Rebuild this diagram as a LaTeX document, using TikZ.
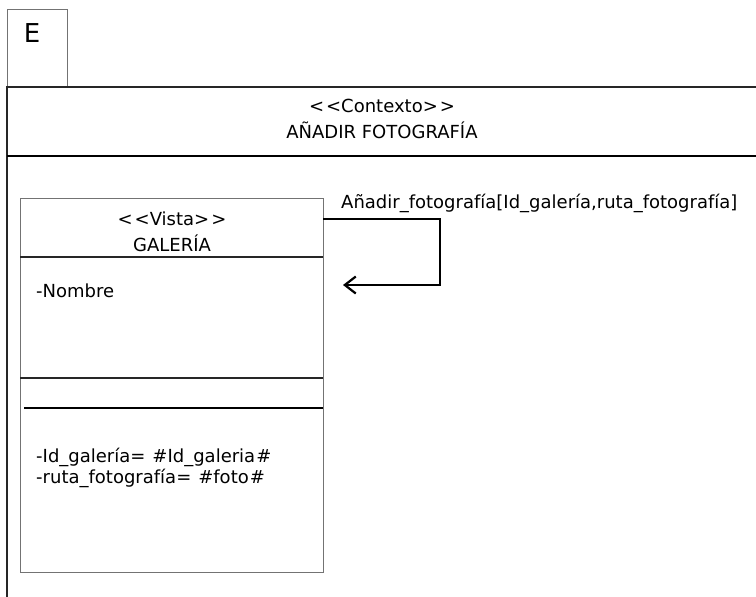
\documentclass[tikz,border=0pt]{standalone}
\usepackage{fontspec}
\setmainfont{DejaVu Sans}
\usetikzlibrary{arrows.meta}
\begin{document}
\begin{tikzpicture}[x=1pt,y=-1pt,
  thinbox/.style={draw=black!55,line width=0.9pt},
  rule/.style={draw=black!85,line width=1.4pt},
  heavyrule/.style={draw=black,line width=2pt},
  lbl/.style={font=\fontsize{18}{21}\selectfont,inner sep=0pt},
  flow/.style={draw=black,line width=2pt,-{Straight Barb[length=11pt,width=17pt,line width=2.2pt]}}]
\useasboundingbox (0,0) rectangle (756,597);
\fill[white] (0,0) rectangle (756,597);
% frame tab
\draw[thinbox] (7,87) -- (7,9) -- (67,9) -- (67,87);
\node[lbl,font=\fontsize{26}{30}\selectfont] (tab) at (32,33) {E};
% frame border and context header
\draw[rule] (756,87) -- (7,87) -- (7,597);
\draw[heavyrule] (7,156) -- (756,156);
\node[lbl] (ctx) at (382,106) {<\kern2pt<Contexto>\kern2pt>};
\node[lbl] (ctxname) at (382,130) {AÑADIR FOTOGRAFÍA};
% view class
\draw[thinbox] (20,198) rectangle (323,572);
\coordinate (gtopright) at (323,219);
\draw[rule] (20,257) -- (323,257);
\draw[rule] (20,378) -- (323,378);
\draw[heavyrule] (24,408) -- (323,408);
\node[lbl] (stereo) at (172,219) {<\kern2pt<Vista>\kern2pt>};
\node[lbl] (gname) at (172,243) {GALERÍA};
\node[lbl,anchor=west] (attr) at (36,291) {-Nombre};
\node[lbl,anchor=west] (param1) at (36,457) {-Id\_galería=\hspace{7pt}\#Id\_galeria\kern1pt\#};
\node[lbl,anchor=west] (param2) at (36,478) {-ruta\_fotografía=\hspace{7pt}\#foto\kern1pt\#};
% self message
\coordinate (back) at (343,285);
\draw[flow] (gtopright) -- (440,219) -- (440,285) -- (back);
\node[lbl,anchor=west] (msg) at (341,203) {Añadir\_fotografía[Id\_galería,ruta\_fotografía]};
\end{tikzpicture}
\end{document}
